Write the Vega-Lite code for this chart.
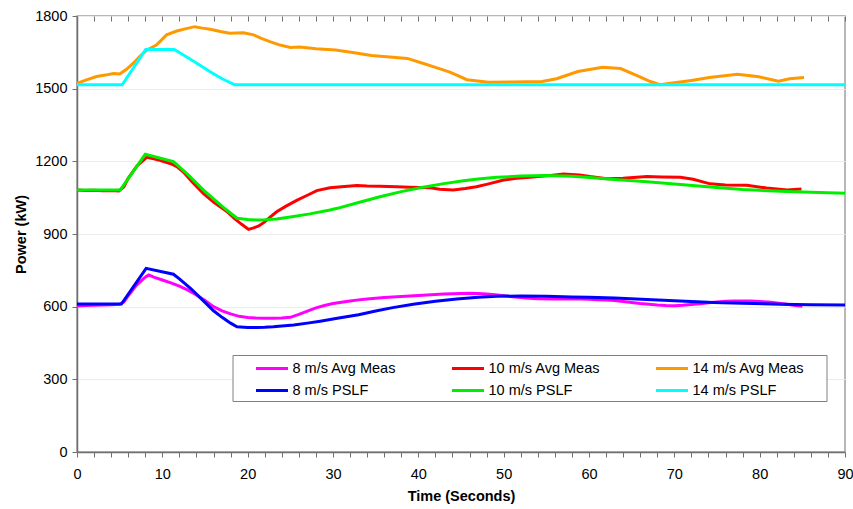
{
  "$schema": "https://vega.github.io/schema/vega-lite/v6.json",
  "width": 768,
  "height": 436,
  "autosize": {"type": "none"},
  "padding": {"left": 77, "top": 16, "right": 8, "bottom": 57},
  "config": {
    "font": "Liberation Sans",
    "view": {"stroke": "#a0a0a0", "strokeWidth": 1.5},
    "axis": {"labelFontSize": 14.5, "titleFontSize": 14.5, "titleFontWeight": "bold", "labelColor": "#000", "titleColor": "#000", "domainColor": "#707070", "tickColor": "#707070", "domainWidth": 1.5, "tickSize": 5, "labelOverlap": false, "labelFlush": false}
  },
  "data": {"values": [
    {"s":"8 m/s Avg Meas","k":"m","t":0,"p":603},{"s":"8 m/s Avg Meas","k":"m","t":1,"p":605},{"s":"8 m/s Avg Meas","k":"m","t":2,"p":606},{"s":"8 m/s Avg Meas","k":"m","t":3,"p":607},{"s":"8 m/s Avg Meas","k":"m","t":4,"p":608},{"s":"8 m/s Avg Meas","k":"m","t":5,"p":610},{"s":"8 m/s Avg Meas","k":"m","t":5.5,"p":620},{"s":"8 m/s Avg Meas","k":"m","t":6,"p":645},{"s":"8 m/s Avg Meas","k":"m","t":7,"p":690},{"s":"8 m/s Avg Meas","k":"m","t":8,"p":722},{"s":"8 m/s Avg Meas","k":"m","t":8.4,"p":731},{"s":"8 m/s Avg Meas","k":"m","t":9,"p":722},{"s":"8 m/s Avg Meas","k":"m","t":10,"p":710},{"s":"8 m/s Avg Meas","k":"m","t":11,"p":698},{"s":"8 m/s Avg Meas","k":"m","t":12,"p":685},{"s":"8 m/s Avg Meas","k":"m","t":13,"p":668},{"s":"8 m/s Avg Meas","k":"m","t":14,"p":648},{"s":"8 m/s Avg Meas","k":"m","t":15,"p":625},{"s":"8 m/s Avg Meas","k":"m","t":16,"p":600},{"s":"8 m/s Avg Meas","k":"m","t":17,"p":583},{"s":"8 m/s Avg Meas","k":"m","t":18,"p":570},{"s":"8 m/s Avg Meas","k":"m","t":19,"p":560},{"s":"8 m/s Avg Meas","k":"m","t":20,"p":555},{"s":"8 m/s Avg Meas","k":"m","t":21,"p":553},{"s":"8 m/s Avg Meas","k":"m","t":22,"p":552},{"s":"8 m/s Avg Meas","k":"m","t":23,"p":552},{"s":"8 m/s Avg Meas","k":"m","t":24,"p":553},{"s":"8 m/s Avg Meas","k":"m","t":25,"p":556},{"s":"8 m/s Avg Meas","k":"m","t":26,"p":568},{"s":"8 m/s Avg Meas","k":"m","t":27,"p":582},{"s":"8 m/s Avg Meas","k":"m","t":28,"p":595},{"s":"8 m/s Avg Meas","k":"m","t":29,"p":605},{"s":"8 m/s Avg Meas","k":"m","t":30,"p":613},{"s":"8 m/s Avg Meas","k":"m","t":31,"p":618},{"s":"8 m/s Avg Meas","k":"m","t":32,"p":623},{"s":"8 m/s Avg Meas","k":"m","t":33,"p":628},{"s":"8 m/s Avg Meas","k":"m","t":34,"p":632},{"s":"8 m/s Avg Meas","k":"m","t":35,"p":635},{"s":"8 m/s Avg Meas","k":"m","t":36,"p":638},{"s":"8 m/s Avg Meas","k":"m","t":37,"p":640},{"s":"8 m/s Avg Meas","k":"m","t":38,"p":642},{"s":"8 m/s Avg Meas","k":"m","t":39,"p":644},{"s":"8 m/s Avg Meas","k":"m","t":40,"p":646},{"s":"8 m/s Avg Meas","k":"m","t":41,"p":648},{"s":"8 m/s Avg Meas","k":"m","t":42,"p":650},{"s":"8 m/s Avg Meas","k":"m","t":43,"p":652},{"s":"8 m/s Avg Meas","k":"m","t":44,"p":653},{"s":"8 m/s Avg Meas","k":"m","t":45,"p":654},{"s":"8 m/s Avg Meas","k":"m","t":46,"p":655},{"s":"8 m/s Avg Meas","k":"m","t":47,"p":654},{"s":"8 m/s Avg Meas","k":"m","t":48,"p":652},{"s":"8 m/s Avg Meas","k":"m","t":49,"p":649},{"s":"8 m/s Avg Meas","k":"m","t":50,"p":645},{"s":"8 m/s Avg Meas","k":"m","t":51,"p":641},{"s":"8 m/s Avg Meas","k":"m","t":52,"p":638},{"s":"8 m/s Avg Meas","k":"m","t":53,"p":635},{"s":"8 m/s Avg Meas","k":"m","t":54,"p":633},{"s":"8 m/s Avg Meas","k":"m","t":56,"p":632},{"s":"8 m/s Avg Meas","k":"m","t":59,"p":632},{"s":"8 m/s Avg Meas","k":"m","t":60,"p":631},{"s":"8 m/s Avg Meas","k":"m","t":61,"p":629},{"s":"8 m/s Avg Meas","k":"m","t":62,"p":627},{"s":"8 m/s Avg Meas","k":"m","t":63,"p":625},{"s":"8 m/s Avg Meas","k":"m","t":64,"p":621},{"s":"8 m/s Avg Meas","k":"m","t":65,"p":617},{"s":"8 m/s Avg Meas","k":"m","t":66,"p":613},{"s":"8 m/s Avg Meas","k":"m","t":67,"p":610},{"s":"8 m/s Avg Meas","k":"m","t":68,"p":607},{"s":"8 m/s Avg Meas","k":"m","t":69,"p":605},{"s":"8 m/s Avg Meas","k":"m","t":70,"p":604},{"s":"8 m/s Avg Meas","k":"m","t":71,"p":606},{"s":"8 m/s Avg Meas","k":"m","t":72,"p":609},{"s":"8 m/s Avg Meas","k":"m","t":73,"p":612},{"s":"8 m/s Avg Meas","k":"m","t":74,"p":616},{"s":"8 m/s Avg Meas","k":"m","t":75,"p":619},{"s":"8 m/s Avg Meas","k":"m","t":76,"p":622},{"s":"8 m/s Avg Meas","k":"m","t":77,"p":623},{"s":"8 m/s Avg Meas","k":"m","t":79,"p":623},{"s":"8 m/s Avg Meas","k":"m","t":80,"p":621},{"s":"8 m/s Avg Meas","k":"m","t":81,"p":619},{"s":"8 m/s Avg Meas","k":"m","t":82,"p":615},{"s":"8 m/s Avg Meas","k":"m","t":83,"p":611},{"s":"8 m/s Avg Meas","k":"m","t":84,"p":606},{"s":"8 m/s Avg Meas","k":"m","t":85,"p":602},
    {"s":"8 m/s PSLF","k":"p","t":0,"p":611},{"s":"8 m/s PSLF","k":"p","t":5.2,"p":611},{"s":"8 m/s PSLF","k":"p","t":8.1,"p":758},{"s":"8 m/s PSLF","k":"p","t":11.3,"p":734},{"s":"8 m/s PSLF","k":"p","t":12,"p":715},{"s":"8 m/s PSLF","k":"p","t":13.3,"p":676},{"s":"8 m/s PSLF","k":"p","t":14,"p":652},{"s":"8 m/s PSLF","k":"p","t":15,"p":618},{"s":"8 m/s PSLF","k":"p","t":16,"p":583},{"s":"8 m/s PSLF","k":"p","t":17,"p":556},{"s":"8 m/s PSLF","k":"p","t":18,"p":532},{"s":"8 m/s PSLF","k":"p","t":18.75,"p":517},{"s":"8 m/s PSLF","k":"p","t":20,"p":514},{"s":"8 m/s PSLF","k":"p","t":21.1,"p":514},{"s":"8 m/s PSLF","k":"p","t":22,"p":515},{"s":"8 m/s PSLF","k":"p","t":23,"p":517},{"s":"8 m/s PSLF","k":"p","t":24,"p":520},{"s":"8 m/s PSLF","k":"p","t":25.4,"p":524},{"s":"8 m/s PSLF","k":"p","t":27,"p":532},{"s":"8 m/s PSLF","k":"p","t":28.5,"p":540},{"s":"8 m/s PSLF","k":"p","t":30.5,"p":552},{"s":"8 m/s PSLF","k":"p","t":33,"p":567},{"s":"8 m/s PSLF","k":"p","t":35,"p":582},{"s":"8 m/s PSLF","k":"p","t":37,"p":596},{"s":"8 m/s PSLF","k":"p","t":39.4,"p":610},{"s":"8 m/s PSLF","k":"p","t":42,"p":622},{"s":"8 m/s PSLF","k":"p","t":44.5,"p":632},{"s":"8 m/s PSLF","k":"p","t":47,"p":639},{"s":"8 m/s PSLF","k":"p","t":49.2,"p":643},{"s":"8 m/s PSLF","k":"p","t":52,"p":644},{"s":"8 m/s PSLF","k":"p","t":55,"p":643},{"s":"8 m/s PSLF","k":"p","t":58,"p":640},{"s":"8 m/s PSLF","k":"p","t":60,"p":639},{"s":"8 m/s PSLF","k":"p","t":63,"p":636},{"s":"8 m/s PSLF","k":"p","t":66.8,"p":630},{"s":"8 m/s PSLF","k":"p","t":70,"p":624},{"s":"8 m/s PSLF","k":"p","t":74.6,"p":617},{"s":"8 m/s PSLF","k":"p","t":78,"p":614},{"s":"8 m/s PSLF","k":"p","t":82.4,"p":610},{"s":"8 m/s PSLF","k":"p","t":86,"p":608},{"s":"8 m/s PSLF","k":"p","t":90,"p":607},
    {"s":"10 m/s Avg Meas","k":"m","t":0,"p":1082},{"s":"10 m/s Avg Meas","k":"m","t":1,"p":1080},{"s":"10 m/s Avg Meas","k":"m","t":2,"p":1081},{"s":"10 m/s Avg Meas","k":"m","t":3,"p":1079},{"s":"10 m/s Avg Meas","k":"m","t":4,"p":1080},{"s":"10 m/s Avg Meas","k":"m","t":4.9,"p":1078},{"s":"10 m/s Avg Meas","k":"m","t":5.5,"p":1095},{"s":"10 m/s Avg Meas","k":"m","t":6,"p":1130},{"s":"10 m/s Avg Meas","k":"m","t":7,"p":1180},{"s":"10 m/s Avg Meas","k":"m","t":8.2,"p":1217},{"s":"10 m/s Avg Meas","k":"m","t":9,"p":1210},{"s":"10 m/s Avg Meas","k":"m","t":9.8,"p":1203},{"s":"10 m/s Avg Meas","k":"m","t":11,"p":1190},{"s":"10 m/s Avg Meas","k":"m","t":11.7,"p":1178},{"s":"10 m/s Avg Meas","k":"m","t":12.5,"p":1155},{"s":"10 m/s Avg Meas","k":"m","t":13.5,"p":1115},{"s":"10 m/s Avg Meas","k":"m","t":14.8,"p":1068},{"s":"10 m/s Avg Meas","k":"m","t":16,"p":1032},{"s":"10 m/s Avg Meas","k":"m","t":17.6,"p":992},{"s":"10 m/s Avg Meas","k":"m","t":18.5,"p":962},{"s":"10 m/s Avg Meas","k":"m","t":19.3,"p":940},{"s":"10 m/s Avg Meas","k":"m","t":20.1,"p":919},{"s":"10 m/s Avg Meas","k":"m","t":20.7,"p":925},{"s":"10 m/s Avg Meas","k":"m","t":21.3,"p":933},{"s":"10 m/s Avg Meas","k":"m","t":22,"p":950},{"s":"10 m/s Avg Meas","k":"m","t":22.7,"p":972},{"s":"10 m/s Avg Meas","k":"m","t":23.4,"p":992},{"s":"10 m/s Avg Meas","k":"m","t":24.5,"p":1015},{"s":"10 m/s Avg Meas","k":"m","t":25.8,"p":1040},{"s":"10 m/s Avg Meas","k":"m","t":27,"p":1060},{"s":"10 m/s Avg Meas","k":"m","t":28.1,"p":1079},{"s":"10 m/s Avg Meas","k":"m","t":29.65,"p":1091},{"s":"10 m/s Avg Meas","k":"m","t":31,"p":1095},{"s":"10 m/s Avg Meas","k":"m","t":32.8,"p":1100},{"s":"10 m/s Avg Meas","k":"m","t":34,"p":1098},{"s":"10 m/s Avg Meas","k":"m","t":35.5,"p":1097},{"s":"10 m/s Avg Meas","k":"m","t":37.5,"p":1095},{"s":"10 m/s Avg Meas","k":"m","t":39,"p":1093},{"s":"10 m/s Avg Meas","k":"m","t":41.4,"p":1091},{"s":"10 m/s Avg Meas","k":"m","t":42.5,"p":1085},{"s":"10 m/s Avg Meas","k":"m","t":44.1,"p":1082},{"s":"10 m/s Avg Meas","k":"m","t":45.5,"p":1088},{"s":"10 m/s Avg Meas","k":"m","t":46.8,"p":1095},{"s":"10 m/s Avg Meas","k":"m","t":48,"p":1105},{"s":"10 m/s Avg Meas","k":"m","t":50,"p":1123},{"s":"10 m/s Avg Meas","k":"m","t":51.5,"p":1130},{"s":"10 m/s Avg Meas","k":"m","t":53.1,"p":1134},{"s":"10 m/s Avg Meas","k":"m","t":55,"p":1140},{"s":"10 m/s Avg Meas","k":"m","t":57,"p":1148},{"s":"10 m/s Avg Meas","k":"m","t":58.9,"p":1144},{"s":"10 m/s Avg Meas","k":"m","t":60.1,"p":1137},{"s":"10 m/s Avg Meas","k":"m","t":62.1,"p":1128},{"s":"10 m/s Avg Meas","k":"m","t":64,"p":1130},{"s":"10 m/s Avg Meas","k":"m","t":66.8,"p":1137},{"s":"10 m/s Avg Meas","k":"m","t":68.5,"p":1135},{"s":"10 m/s Avg Meas","k":"m","t":70.7,"p":1134},{"s":"10 m/s Avg Meas","k":"m","t":72.2,"p":1126},{"s":"10 m/s Avg Meas","k":"m","t":74.2,"p":1107},{"s":"10 m/s Avg Meas","k":"m","t":76,"p":1102},{"s":"10 m/s Avg Meas","k":"m","t":78.5,"p":1101},{"s":"10 m/s Avg Meas","k":"m","t":80.8,"p":1090},{"s":"10 m/s Avg Meas","k":"m","t":83.2,"p":1082},{"s":"10 m/s Avg Meas","k":"m","t":84.9,"p":1086},
    {"s":"10 m/s PSLF","k":"p","t":0,"p":1082},{"s":"10 m/s PSLF","k":"p","t":5.08,"p":1082},{"s":"10 m/s PSLF","k":"p","t":8,"p":1229},{"s":"10 m/s PSLF","k":"p","t":11.3,"p":1199},{"s":"10 m/s PSLF","k":"p","t":13,"p":1145},{"s":"10 m/s PSLF","k":"p","t":14.8,"p":1082},{"s":"10 m/s PSLF","k":"p","t":16,"p":1045},{"s":"10 m/s PSLF","k":"p","t":17.5,"p":1000},{"s":"10 m/s PSLF","k":"p","t":18.75,"p":965},{"s":"10 m/s PSLF","k":"p","t":20,"p":960},{"s":"10 m/s PSLF","k":"p","t":21.1,"p":958},{"s":"10 m/s PSLF","k":"p","t":22,"p":959},{"s":"10 m/s PSLF","k":"p","t":23.4,"p":962},{"s":"10 m/s PSLF","k":"p","t":25,"p":970},{"s":"10 m/s PSLF","k":"p","t":27.3,"p":983},{"s":"10 m/s PSLF","k":"p","t":29.65,"p":999},{"s":"10 m/s PSLF","k":"p","t":30.5,"p":1006},{"s":"10 m/s PSLF","k":"p","t":33,"p":1030},{"s":"10 m/s PSLF","k":"p","t":35.5,"p":1054},{"s":"10 m/s PSLF","k":"p","t":38,"p":1075},{"s":"10 m/s PSLF","k":"p","t":40.2,"p":1091},{"s":"10 m/s PSLF","k":"p","t":43,"p":1108},{"s":"10 m/s PSLF","k":"p","t":45.3,"p":1120},{"s":"10 m/s PSLF","k":"p","t":47,"p":1127},{"s":"10 m/s PSLF","k":"p","t":49.2,"p":1134},{"s":"10 m/s PSLF","k":"p","t":52,"p":1139},{"s":"10 m/s PSLF","k":"p","t":55,"p":1141},{"s":"10 m/s PSLF","k":"p","t":58,"p":1138},{"s":"10 m/s PSLF","k":"p","t":60.1,"p":1133},{"s":"10 m/s PSLF","k":"p","t":63,"p":1125},{"s":"10 m/s PSLF","k":"p","t":66.8,"p":1116},{"s":"10 m/s PSLF","k":"p","t":70,"p":1106},{"s":"10 m/s PSLF","k":"p","t":74.6,"p":1093},{"s":"10 m/s PSLF","k":"p","t":78,"p":1084},{"s":"10 m/s PSLF","k":"p","t":82.4,"p":1076},{"s":"10 m/s PSLF","k":"p","t":86,"p":1072},{"s":"10 m/s PSLF","k":"p","t":90,"p":1068},
    {"s":"14 m/s Avg Meas","k":"m","t":0,"p":1522},{"s":"14 m/s Avg Meas","k":"m","t":1.1,"p":1536},{"s":"14 m/s Avg Meas","k":"m","t":2.3,"p":1550},{"s":"14 m/s Avg Meas","k":"m","t":3.3,"p":1556},{"s":"14 m/s Avg Meas","k":"m","t":4.3,"p":1563},{"s":"14 m/s Avg Meas","k":"m","t":5,"p":1561},{"s":"14 m/s Avg Meas","k":"m","t":5.8,"p":1580},{"s":"14 m/s Avg Meas","k":"m","t":6.6,"p":1605},{"s":"14 m/s Avg Meas","k":"m","t":7.4,"p":1635},{"s":"14 m/s Avg Meas","k":"m","t":8.2,"p":1660},{"s":"14 m/s Avg Meas","k":"m","t":9.3,"p":1680},{"s":"14 m/s Avg Meas","k":"m","t":10.5,"p":1722},{"s":"14 m/s Avg Meas","k":"m","t":11.7,"p":1738},{"s":"14 m/s Avg Meas","k":"m","t":12.8,"p":1748},{"s":"14 m/s Avg Meas","k":"m","t":13.8,"p":1756},{"s":"14 m/s Avg Meas","k":"m","t":14.7,"p":1750},{"s":"14 m/s Avg Meas","k":"m","t":15.6,"p":1745},{"s":"14 m/s Avg Meas","k":"m","t":16.8,"p":1736},{"s":"14 m/s Avg Meas","k":"m","t":17.9,"p":1729},{"s":"14 m/s Avg Meas","k":"m","t":19.5,"p":1731},{"s":"14 m/s Avg Meas","k":"m","t":20.7,"p":1722},{"s":"14 m/s Avg Meas","k":"m","t":21.6,"p":1708},{"s":"14 m/s Avg Meas","k":"m","t":22.6,"p":1694},{"s":"14 m/s Avg Meas","k":"m","t":23.8,"p":1680},{"s":"14 m/s Avg Meas","k":"m","t":25,"p":1670},{"s":"14 m/s Avg Meas","k":"m","t":26.1,"p":1672},{"s":"14 m/s Avg Meas","k":"m","t":28,"p":1665},{"s":"14 m/s Avg Meas","k":"m","t":30.3,"p":1660},{"s":"14 m/s Avg Meas","k":"m","t":32.5,"p":1648},{"s":"14 m/s Avg Meas","k":"m","t":34.5,"p":1637},{"s":"14 m/s Avg Meas","k":"m","t":37,"p":1630},{"s":"14 m/s Avg Meas","k":"m","t":38.7,"p":1625},{"s":"14 m/s Avg Meas","k":"m","t":40.7,"p":1603},{"s":"14 m/s Avg Meas","k":"m","t":42,"p":1588},{"s":"14 m/s Avg Meas","k":"m","t":43.7,"p":1568},{"s":"14 m/s Avg Meas","k":"m","t":45.7,"p":1537},{"s":"14 m/s Avg Meas","k":"m","t":48.2,"p":1527},{"s":"14 m/s Avg Meas","k":"m","t":51,"p":1528},{"s":"14 m/s Avg Meas","k":"m","t":54.5,"p":1530},{"s":"14 m/s Avg Meas","k":"m","t":56.2,"p":1541},{"s":"14 m/s Avg Meas","k":"m","t":58.7,"p":1571},{"s":"14 m/s Avg Meas","k":"m","t":61.6,"p":1588},{"s":"14 m/s Avg Meas","k":"m","t":63.7,"p":1583},{"s":"14 m/s Avg Meas","k":"m","t":65.7,"p":1553},{"s":"14 m/s Avg Meas","k":"m","t":67,"p":1532},{"s":"14 m/s Avg Meas","k":"m","t":68.3,"p":1516},{"s":"14 m/s Avg Meas","k":"m","t":70,"p":1524},{"s":"14 m/s Avg Meas","k":"m","t":72,"p":1534},{"s":"14 m/s Avg Meas","k":"m","t":74.1,"p":1546},{"s":"14 m/s Avg Meas","k":"m","t":77.4,"p":1559},{"s":"14 m/s Avg Meas","k":"m","t":79.9,"p":1549},{"s":"14 m/s Avg Meas","k":"m","t":82.2,"p":1531},{"s":"14 m/s Avg Meas","k":"m","t":83.5,"p":1541},{"s":"14 m/s Avg Meas","k":"m","t":85.2,"p":1546},
    {"s":"14 m/s PSLF","k":"p","t":0,"p":1516},{"s":"14 m/s PSLF","k":"p","t":5.3,"p":1516},{"s":"14 m/s PSLF","k":"p","t":8.05,"p":1662},{"s":"14 m/s PSLF","k":"p","t":11.4,"p":1662},{"s":"14 m/s PSLF","k":"p","t":13,"p":1628},{"s":"14 m/s PSLF","k":"p","t":14.5,"p":1595},{"s":"14 m/s PSLF","k":"p","t":15.6,"p":1570},{"s":"14 m/s PSLF","k":"p","t":17,"p":1541},{"s":"14 m/s PSLF","k":"p","t":18.5,"p":1516},{"s":"14 m/s PSLF","k":"p","t":90,"p":1516}
  ]},
  "encoding": {
    "x": {"field": "t", "type": "quantitative", "scale": {"domain": [0, 90], "nice": false, "zero": false},
      "axis": {"title": "Time (Seconds)", "grid": false, "values": [0,2,4,6,8,10,12,14,16,18,20,22,24,26,28,30,32,34,36,38,40,42,44,46,48,50,52,54,56,58,60,62,64,66,68,70,72,74,76,78,80,82,84,86,88,90], "labelExpr": "datum.value % 10 === 0 ? datum.label : ''", "labelPadding": 10, "titlePadding": 9}},
    "y": {"field": "p", "type": "quantitative", "scale": {"domain": [0, 1800], "nice": false},
      "axis": {"title": "Power (kW)", "format": "d", "values": [0,300,600,900,1200,1500,1800], "grid": true, "gridColor": "#ececec", "gridWidth": 1, "labelPadding": 5, "titlePadding": 6}},
    "color": {"field": "s", "type": "nominal",
      "scale": {"domain": ["8 m/s Avg Meas","10 m/s Avg Meas","14 m/s Avg Meas","8 m/s PSLF","10 m/s PSLF","14 m/s PSLF"],
                "range": ["#FF00FF","#FF0000","#FF9900","#0000FF","#00EE00","#00FFFF"]},
      "legend": {"title": " ", "titleOrient": "right", "titlePadding": 18, "titleFontSize": 11, "orient": "none", "direction": "horizontal", "legendX": 155.5, "legendY": 339, "columns": 3, "gridAlign": "each",
        "symbolType": "M-2,0H2", "symbolStrokeWidth": 3, "symbolSize": 256, "symbolOffset": 26,
        "labelFontSize": 14.5, "labelOffset": 11, "labelColor": "#000", "columnPadding": 36, "rowPadding": 6,
        "strokeColor": "#808080", "fillColor": "#ffffff", "padding": 4}}
  },
  "resolve": {"axis": {"x": "independent"}},
  "layer": [
    {"transform": [{"filter": "datum.k === 'm'"}], "mark": {"type": "line", "strokeWidth": 3}},
    {"transform": [{"filter": "datum.k === 'p'"}], "mark": {"type": "line", "strokeWidth": 3},
     "encoding": {"x": {"field": "t", "type": "quantitative", "scale": {"domain": [0, 90], "nice": false, "zero": false},
       "axis": {"title": null, "labels": false, "domain": false, "grid": false, "tickSize": -5, "values": [0,2,4,6,8,10,12,14,16,18,20,22,24,26,28,30,32,34,36,38,40,42,44,46,48,50,52,54,56,58,60,62,64,66,68,70,72,74,76,78,80,82,84,86,88,90]}}}}
  ]
}
